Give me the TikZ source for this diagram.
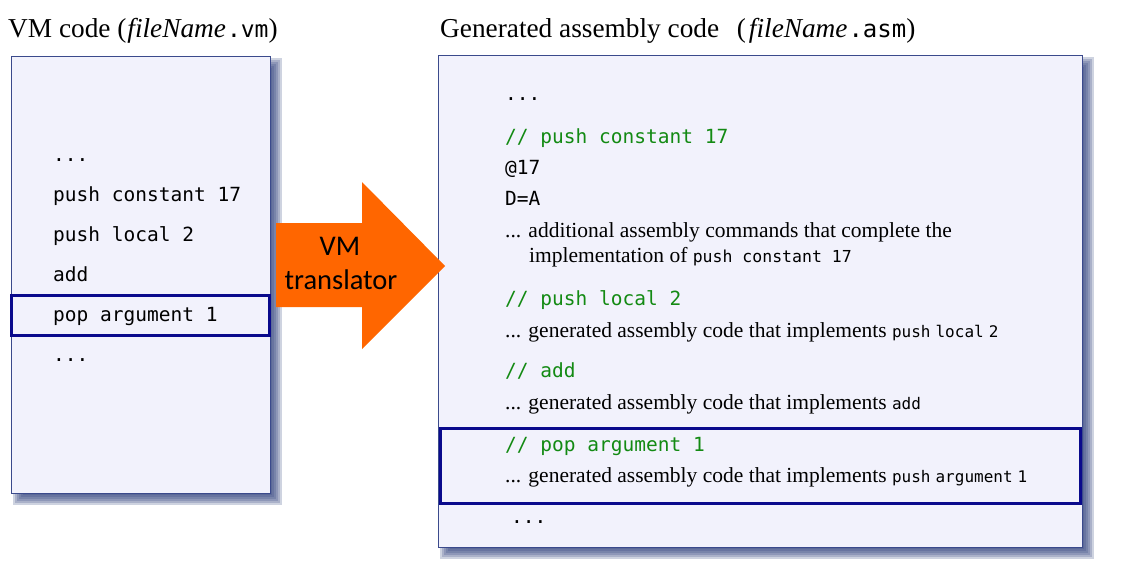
\documentclass[tikz,border=0pt]{standalone}
\usepackage{fontspec}
\setmainfont{Liberation Serif}
\newfontfamily\codefont{DejaVu Sans Mono}
\newfontfamily\calfont{Carlito}
\definecolor{panelfill}{HTML}{F2F2FC}
\definecolor{panelline}{HTML}{3B4A8C}
\definecolor{shadowc}{HTML}{34457F}
\definecolor{hilite}{HTML}{0A0A8C}
\definecolor{comment}{HTML}{138A13}
\definecolor{arroworange}{HTML}{FF6600}
\newcommand\ic[1]{{\fontsize{16.5}{18}\codefont #1}}
\newcommand\icw[1]{{\fontsize{16}{18}\codefont #1}}
\newcommand\isp{\hspace{5pt}}
\tikzset{
  panel/.style={draw=panelline, line width=1.1pt, fill=panelfill, anchor=north west, inner sep=0pt},
  code/.style={anchor=base west, inner sep=0pt, font=\fontsize{19.5}{22}\codefont},
  cmt/.style={code, text=comment},
  prose/.style={anchor=base west, inner sep=0pt, font=\fontsize{21.5}{24}\selectfont},
  ttl/.style={anchor=base west, inner sep=0pt, font=\fontsize{27.3}{30}\selectfont},
  hibox/.style={draw=hilite, line width=3pt},
  shadowlayer/.style={fill=shadowc, opacity=0.24},
  label/.style={inner sep=0pt, anchor=base, font=\fontsize{28.5}{31}\calfont},
}
\begin{document}
\begin{tikzpicture}[x=1pt,y=1pt]
\useasboundingbox (0,0) rectangle (1136,-581);
% shadows
\foreach \e in {5,3,1,-1,-3,-5}{
  \fill[shadowlayer] (18-\e,-63+\e) rectangle (277+\e,-500-\e);
  \fill[shadowlayer] (445-\e,-62+\e) rectangle (1089+\e,-554-\e);
}
% panels
\node[panel, minimum width=259pt, minimum height=437pt] (vm) at (11,-56) {};
\node[panel, minimum width=644pt, minimum height=492pt] (asm) at (438,-55) {};
% titles
\node[ttl] (vmtitle) at (8,-37) {VM code (\kern1pt\textit{fileName}\kern1pt{\fontsize{23}{27}\codefont .vm})};
\node[ttl] (asmtitle) at (440,-37) {Generated assembly code\hspace{0.65em}(\kern3pt\textit{fileName}\kern1pt{\fontsize{24}{27}\codefont .asm})};
% left code
\node[code] (l1) at (53,-161) {...};
\node[code] (l2) at (53,-201) {push constant 17};
\node[code] (l3) at (53,-241) {push local 2};
\node[code] (l4) at (53,-281) {add};
\node[code] (l5) at (53,-321) {pop argument 1};
\node[code] (l6) at (53,-361) {...};
\draw[hibox] (11,-295) rectangle (269,-335);
% arrow
\fill[arroworange] (276,-223) -- (362,-223) -- (362,-182) -- (445,-266) -- (362,-349) -- (362,-307) -- (276,-307) -- cycle;
\node[label] (vmt1) at (340,-255) {VM};
\node[label] (vmt2) at (341,-289) {translator};
% right code
\node[code] (r1) at (505,-100) {...};
\node[cmt] (r2) at (505,-143) {// push constant 17};
\node[code] (r3) at (505,-174) {@17};
\node[code] (r4) at (505,-205) {D=A};
\node[prose] (r5) at (505,-237) {... additional assembly commands that complete the};
\node[prose] (r6) at (529,-262) {implementation of \ic{push constant 17}};
\node[cmt] (r7) at (505,-305) {// push local 2};
\node[prose] (r8) at (505,-337) {... generated assembly code that implements \icw{push}\isp\icw{local}\isp\icw{2}};
\node[cmt] (r9) at (505,-377) {// add};
\node[prose] (r10) at (505,-409) {... generated assembly code that implements \icw{add}};
\draw[hibox] (440,-428) rectangle (1080,-503);
\node[cmt] (r11) at (505,-451) {// pop argument 1};
\node[prose] (r12) at (505,-482) {... generated assembly code that implements \icw{push}\isp\icw{argument}\isp\icw{1}};
\node[code] (r13) at (511,-523) {...};
\end{tikzpicture}
\end{document}
